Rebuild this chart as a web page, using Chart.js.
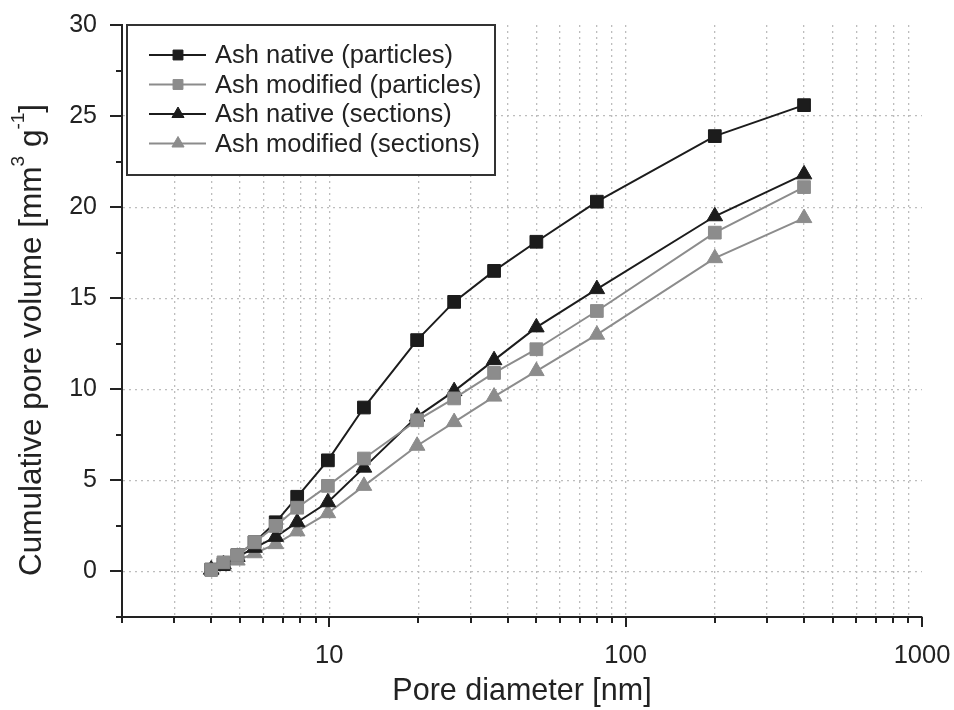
<!DOCTYPE html>
<html>
<head>
<meta charset="utf-8">
<script src="https://cdn.jsdelivr.net/npm/chart.js@4.4.0/dist/chart.umd.min.js"></script>
<style>
  html, body { margin: 0; padding: 0; background: #fff; }
  canvas { display: block; }
</style>
</head>
<body>
<canvas id="poreChart" width="954" height="710"></canvas>
<script>
// pore diameter in nm, shared by all four runs
const poreDiameter = [4, 4.4, 4.9, 5.6, 6.6, 7.8, 9.9, 13.1, 19.8, 26.4, 36, 50, 80, 200, 400];

// cumulative pore volume, mm3 per g
const ashNativeParticles   = [0.1, 0.4, 0.9, 1.6, 2.7, 4.1, 6.1, 9.0, 12.7, 14.8, 16.5, 18.1, 20.3, 23.9, 25.6];
const ashModifiedParticles = [0.1, 0.5, 0.9, 1.6, 2.5, 3.5, 4.7, 6.2, 8.3, 9.5, 10.9, 12.2, 14.3, 18.6, 21.1];
const ashNativeSections    = [0.1, 0.4, 0.8, 1.3, 1.9, 2.7, 3.8, 5.7, 8.5, 9.9, 11.6, 13.4, 15.5, 19.5, 21.8];
const ashModifiedSections  = [0.1, 0.3, 0.6, 1.0, 1.5, 2.2, 3.2, 4.7, 6.9, 8.2, 9.6, 11.0, 13.0, 17.2, 19.4];

const seriesNames = ['Ash native (particles)', 'Ash modified (particles)', 'Ash native (sections)', 'Ash modified (sections)'];

const xTickValues = [2, 3, 4, 5, 6, 7, 8, 9, 10, 20, 30, 40, 50, 60, 70, 80, 90, 100,
                     200, 300, 400, 500, 600, 700, 800, 900, 1000];
const xTickLabels = [10, 100, 1000];
const yTickValues = [-2.5, 0, 2.5, 5, 7.5, 10, 12.5, 15, 17.5, 20, 22.5, 25, 27.5, 30];
const yTickLabels = [0, 5, 10, 15, 20, 25, 30];

const FONT = "'Liberation Sans', Arial, sans-serif";
const INK = '#222';
const DARK = '#1c1c1c';
const GREY = '#8c8c8c';
const GRID = '#bdbdbd';

function points(ys) {
  return poreDiameter.map((x, i) => ({ x: x, y: ys[i] }));
}

function series(label, ys, color, style, order) {
  return {
    label: label,
    data: points(ys),
    order: order,
    borderColor: color,
    backgroundColor: color,
    borderWidth: 2,
    pointStyle: style,
    pointRadius: 9,
    pointBorderWidth: 1,
    pointBorderColor: color,
    pointBackgroundColor: color,
    tension: 0
  };
}

// axis ticks, framed legend and the y title with superscripts
const decorations = {
  id: 'decorations',
  afterDraw(chart) {
    const ctx = chart.ctx;
    const xs = chart.scales.x, ys = chart.scales.y;

    ctx.save();
    ctx.strokeStyle = INK;
    ctx.lineWidth = 2;
    ctx.beginPath();
    xs.ticks.forEach(t => {
      const px = Math.round(xs.getPixelForValue(t.value));
      const len = xTickLabels.includes(t.value) ? 10 : 6;
      ctx.moveTo(px, xs.top);
      ctx.lineTo(px, xs.top + len);
    });
    ys.ticks.forEach(t => {
      const py = Math.round(ys.getPixelForValue(t.value));
      const len = yTickLabels.includes(t.value) ? 12 : 6;
      ctx.moveTo(ys.right, py);
      ctx.lineTo(ys.right - len, py);
    });
    ctx.stroke();
    ctx.restore();

    // legend, listed in dataset order
    const box = { left: 127, top: 25, width: 368, height: 150 };
    ctx.save();
    ctx.fillStyle = '#fff';
    ctx.fillRect(box.left, box.top, box.width, box.height);
    ctx.strokeStyle = '#333';
    ctx.lineWidth = 2;
    ctx.strokeRect(box.left, box.top, box.width, box.height);
    ctx.font = '25.5px ' + FONT;
    ctx.textBaseline = 'middle';
    chart.data.datasets.forEach((ds, i) => {
      const rowY = 55 + i * 29.5;
      ctx.strokeStyle = ds.borderColor;
      ctx.lineWidth = 2;
      ctx.beginPath();
      ctx.moveTo(149, rowY);
      ctx.lineTo(206, rowY);
      ctx.stroke();
      ctx.fillStyle = ds.pointBackgroundColor;
      ctx.lineWidth = 1;
      Chart.helpers.drawPoint(ctx, { pointStyle: ds.pointStyle, radius: 7, rotation: 0, borderWidth: 1 }, 178, rowY);
      ctx.fillStyle = INK;
      ctx.fillText(ds.label, 215, rowY + 1);
    });
    ctx.restore();

    // rotated y title
    const parts = [
      { text: 'Cumulative pore volume [mm', size: 31.5, rise: 0 },
      { text: '3', size: 19, rise: 13 },
      { text: ' g', size: 31.5, rise: 0 },
      { text: '-1', size: 19, rise: 13 },
      { text: ']', size: 31.5, rise: 0 }
    ];
    ctx.save();
    ctx.translate(32, 340);
    ctx.rotate(-Math.PI / 2);
    ctx.fillStyle = INK;
    ctx.textBaseline = 'middle';
    let total = 0;
    parts.forEach(p => { ctx.font = p.size + 'px ' + FONT; p.w = ctx.measureText(p.text).width; total += p.w; });
    let cx = -total / 2;
    parts.forEach(p => {
      ctx.font = p.size + 'px ' + FONT;
      ctx.fillText(p.text, cx, -p.rise);
      cx += p.w;
    });
    ctx.restore();
  }
};

new Chart(document.getElementById('poreChart'), {
  type: 'line',
  data: {
    datasets: [
      series(seriesNames[0], ashNativeParticles, DARK, 'rect', 2),
      series(seriesNames[1], ashModifiedParticles, GREY, 'rect', 0),
      series(seriesNames[2], ashNativeSections, DARK, 'triangle', 1),
      series(seriesNames[3], ashModifiedSections, GREY, 'triangle', 3)
    ]
  },
  options: {
    responsive: false,
    animation: false,
    devicePixelRatio: 1,
    layout: { padding: { top: 25, right: 32, left: 0, bottom: 0 } },
    plugins: {
      legend: { display: false },
      tooltip: { enabled: false }
    },
    scales: {
      x: {
        type: 'logarithmic',
        min: 2,
        max: 1000,
        afterBuildTicks: s => { s.ticks = xTickValues.map(v => ({ value: v })); },
        afterFit: s => { s.height = 93; s.paddingLeft = 0; s.paddingRight = 0; },
        ticks: {
          autoSkip: false,
          maxRotation: 0,
          padding: 24,
          color: INK,
          font: { family: FONT, size: 25.5 },
          callback: v => xTickLabels.includes(v) ? String(v) : ''
        },
        grid: {
          drawTicks: false,
          lineWidth: 1.3,
          color: c => (c.tick && c.tick.value > 2 && c.tick.value < 1000) ? GRID : 'rgba(0,0,0,0)'
        },
        border: { display: true, color: INK, width: 2, dash: [2, 4] },
        title: {
          display: true,
          text: 'Pore diameter [nm]',
          color: INK,
          font: { family: FONT, size: 30.5, lineHeight: 1.2 },
          padding: { top: 0, bottom: 0 }
        }
      },
      y: {
        type: 'linear',
        min: -2.5,
        max: 30,
        afterBuildTicks: s => { s.ticks = yTickValues.map(v => ({ value: v })); },
        afterFit: s => { s.width = 122; s.paddingTop = 0; s.paddingBottom = 0; },
        ticks: {
          autoSkip: false,
          padding: 25,
          color: INK,
          font: { family: FONT, size: 25 },
          callback: v => yTickLabels.includes(v) ? String(v) : ''
        },
        grid: {
          drawTicks: false,
          lineWidth: 1.3,
          color: c => (c.tick && yTickLabels.includes(c.tick.value) && c.tick.value < 30) ? GRID : 'rgba(0,0,0,0)'
        },
        border: { display: true, color: INK, width: 2, dash: [2, 4] }
      }
    }
  },
  plugins: [decorations]
});
</script>
</body>
</html>
